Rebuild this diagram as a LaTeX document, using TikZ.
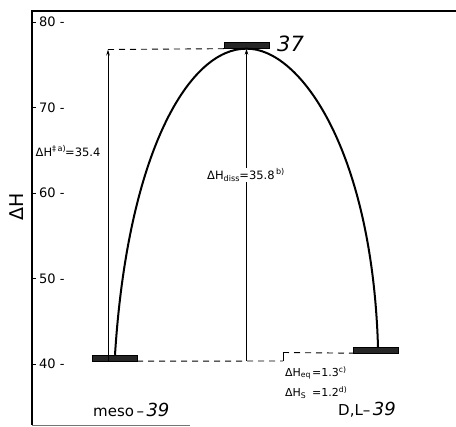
\documentclass[tikz,border=0pt]{standalone}
\usepackage{fontspec}
\setmainfont{DejaVu Sans}
\usetikzlibrary{arrows.meta}
\begin{document}
\begin{tikzpicture}[x=1pt,y=-1pt,
  axis/.style={line width=2pt},
  level/.style={draw=black,fill=black!85,rectangle,inner sep=0pt,minimum width=45pt,minimum height=6pt},
  curve/.style={line width=2pt},
  arr/.style={line width=0.9pt,-{Stealth[length=6pt,width=3.5pt]}},
  dashline/.style={line width=0.9pt,dash pattern=on 6pt off 5pt},
  tick/.style={font=\fontsize{13}{15}\selectfont,anchor=west,inner sep=0pt},
  lab/.style={font=\fontsize{11.5}{14}\selectfont,inner sep=1pt},
  small/.style={font=\fontsize{11}{13}\selectfont,anchor=west,inner sep=0pt}]
\useasboundingbox (0,0) rectangle (456,427);
% frame
\coordinate (tl) at (32,11);
\coordinate (tr) at (456,11);
\coordinate (bl) at (32,425);
\coordinate (br) at (190,425);
\draw[axis] (tr) -- (tl) -- (bl);
\draw[black!55,line width=0.8pt] (bl) -- (br);
% ticks
\foreach \v/\y in {80/22,70/107.5,60/193,50/278.5,40/364}{
  \coordinate (t\v) at (32,\y);
  \draw[line width=0.9pt] (t\v) -- ++(4,0);
  \node[tick] (l\v) at (39,\y) {\v\ -};
}
\node[font=\fontsize{19}{22}\selectfont,rotate=90] (ylab) at (17,207) {ΔH};
% levels
\node[level] (meso) at (114.5,358) {};
\node[level] (dl) at (376,350) {};
\node[level] (ts) at (246.5,45.5) {};
\node[font=\fontsize{21}{24}\selectfont\itshape,anchor=west,inner sep=0pt] (n37) at (277,44) {37};
% curve
\draw[curve] ([xshift=0.5pt]meso.north) .. controls (128,150) and (190,48) .. (ts.south)
  .. controls (300,48) and (372,150) .. ([xshift=2pt]dl.north);
% Delta H double dagger
\coordinate (a1) at (108,361);
\coordinate (a2) at (108,49.5);
\draw[arr] (a1) -- (a2);
\draw[dashline] (a2) -- (ts.south west);
\node[lab,anchor=west,fill=white,inner sep=0.5pt] (hdd) at (35,151) {ΔH\textsuperscript{‡\,a)}\kern-1pt=35.4};
% Delta H diss
\coordinate (d1) at (246.5,361);
\draw[arr] (d1) -- (ts.south);
\node[lab,fill=white] (hdiss) at (246,175) {ΔH\textsubscript{diss}\kern-0.5pt=35.8\textsuperscript{\,b)}};
% bottom dashed steps
\coordinate (s1) at (283,361);
\coordinate (s2) at (283,352.5);
\draw[dashline] (meso.south east) -- (s1);
\draw[line width=0.9pt] (s1) -- (s2);
\draw[dashline] (s2) -- (dl.south west);
\node[small] (heq) at (285,373) {\makebox[27pt][l]{ΔH\textsubscript{eq}}=1.3\textsuperscript{c)}};
\node[small] (hs) at (285,393) {\makebox[27pt][l]{ΔH\textsubscript{S}}=1.2\textsuperscript{d)}};
% labels
\node[font=\fontsize{15}{18}\selectfont,anchor=west,inner sep=0pt] (mlab) at (93,410) {meso\,–\,{\fontsize{18}{20}\selectfont\itshape 39}};
\node[font=\fontsize{15}{18}\selectfont,anchor=west,inner sep=0pt] (dlab) at (338,410) {D,L–\,{\fontsize{18}{20}\selectfont\itshape 39}};
\end{tikzpicture}
\end{document}
